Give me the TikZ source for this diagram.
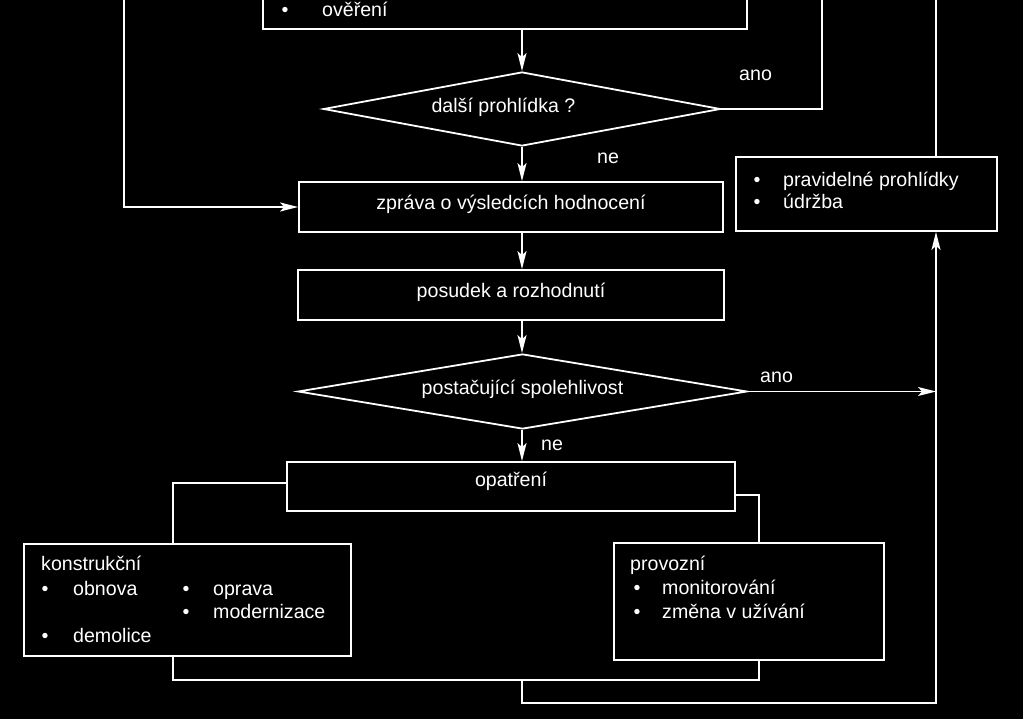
\documentclass[tikz,border=0pt]{standalone}
\usepackage{fontspec}
\setmainfont{Liberation Sans}
\usetikzlibrary{shapes.geometric,arrows.meta}
\begin{document}
\begin{tikzpicture}[x=1pt,y=-1pt,
  every node/.style={text=white,font=\fontsize{19.6}{23.5}\selectfont},
  box/.style={draw=white,line width=1.8pt,rectangle,inner sep=0pt,text height=0.72em,text depth=0.2em},
  dia/.style={draw=white,line width=1.8pt,diamond,inner sep=0pt,text height=0.72em,text depth=0.2em},
  lbl/.style={anchor=base west,inner sep=0pt},
  ctr/.style={anchor=base,inner sep=0pt},
  bul/.style={anchor=base,inner sep=0pt},
  conn/.style={draw=white,line width=1.8pt},
  arr/.style={conn,-{Stealth[length=18pt,width=9pt,inset=4pt]}}
]
\fill[black] (0,0) rectangle (1023,719);
\useasboundingbox (0,0) rectangle (1023,719);
\clip (0,0) rectangle (1023,719);

% boxes
\node[box,minimum width=484,minimum height=80] (top) at (505,-11) {};
\node[dia,aspect=5.36,minimum width=397,minimum height=74] (d1) at (522,109) {};
\node[ctr] (d1t) at (503.5,113) {další prohlídka ?};
\node[box,minimum width=424,minimum height=50] (zpr) at (511,207) {zpráva o výsledcích hodnocení};
\node[box,minimum width=426,minimum height=50] (pos) at (511,295) {posudek a rozhodnutí};
\node[dia,aspect=6,minimum width=449,minimum height=75] (d2) at (522.5,391.5) {postačující spolehlivost};
\node[box,minimum width=448,minimum height=49,text depth=7.9pt] (opa) at (511,486.5) {opatření};
\node[box,minimum width=327,minimum height=112] (kon) at (187.5,600) {};
\node[box,minimum width=270,minimum height=117] (pro) at (749,601.5) {};
\node[box,minimum width=261,minimum height=74] (rb) at (866.5,194) {};

% texts in boxes
\node[bul] (tb) at (285,17) {•};
\node[lbl] (tt) at (322,17) {ověření};

\node[bul] (rb1) at (757,187) {•};
\node[lbl] (rt1) at (783,187) {pravidelné prohlídky};
\node[bul] (rb2) at (757,209) {•};
\node[lbl] (rt2) at (783,209) {údržba};

\node[lbl] (kh) at (41,570) {konstrukční};
\node[bul] (kb1) at (45,595) {•};
\node[lbl] (kt1) at (73,595) {obnova};
\node[bul] (kb2) at (186,595) {•};
\node[lbl] (kt2) at (213,595) {oprava};
\node[bul] (kb3) at (186,618) {•};
\node[lbl] (kt3) at (213,618) {modernizace};
\node[bul] (kb4) at (45,642) {•};
\node[lbl] (kt4) at (73,642) {demolice};

\node[lbl] (ph) at (630,570) {provozní};
\node[bul] (pb1) at (637,594) {•};
\node[lbl] (pt1) at (662,594) {monitorování};
\node[bul] (pb2) at (637,618) {•};
\node[lbl] (pt2) at (662,618) {změna v užívání};

% labels
\node[lbl] (ano1) at (739,81) {ano};
\node[lbl] (ne1) at (597,164) {ne};
\node[lbl] (ano2) at (760,382) {ano};
\node[lbl] (ne2) at (541,450) {ne};

% free ends
\coordinate (c1) at (822,-10);
\coordinate (c2) at (124,-10);
\coordinate (c3) at (936,-10);
\coordinate (b1) at (522,680);
\coordinate (b2) at (936,703);

% connectors
\draw[arr] (d1.north |- top.south) -- (d1.north);
\draw[conn] (d1.east) -| (c1);
\draw[arr] (c2) |- (zpr.west);
\draw[conn] (c3) -- (c3 |- rb.north);
\draw[arr] (d1.south) -- (d1.south |- zpr.north);
\draw[arr] (d1.south |- zpr.south) -- (d1.south |- pos.north);
\draw[arr] (d1.south |- pos.south) -- (d2.north -| d1.south);
\draw[arr] (d2.south -| d1.south) -- (d1.south |- opa.north);
\draw[arr] (d2.east) -- (d2.east -| b2);
\draw[conn] ([yshift=3.5pt]opa.west) -| ([xshift=-14.5pt]kon.north);
\draw[conn] ([yshift=-8.5pt]opa.east) -| ([xshift=10pt]pro.north);
\draw[conn] ([xshift=-14.5pt]kon.south) |- (b1) -| ([xshift=10pt]pro.south);
\draw[arr] (b1) |- (b2) -- (b2 |- rb.south);
\end{tikzpicture}
\end{document}
